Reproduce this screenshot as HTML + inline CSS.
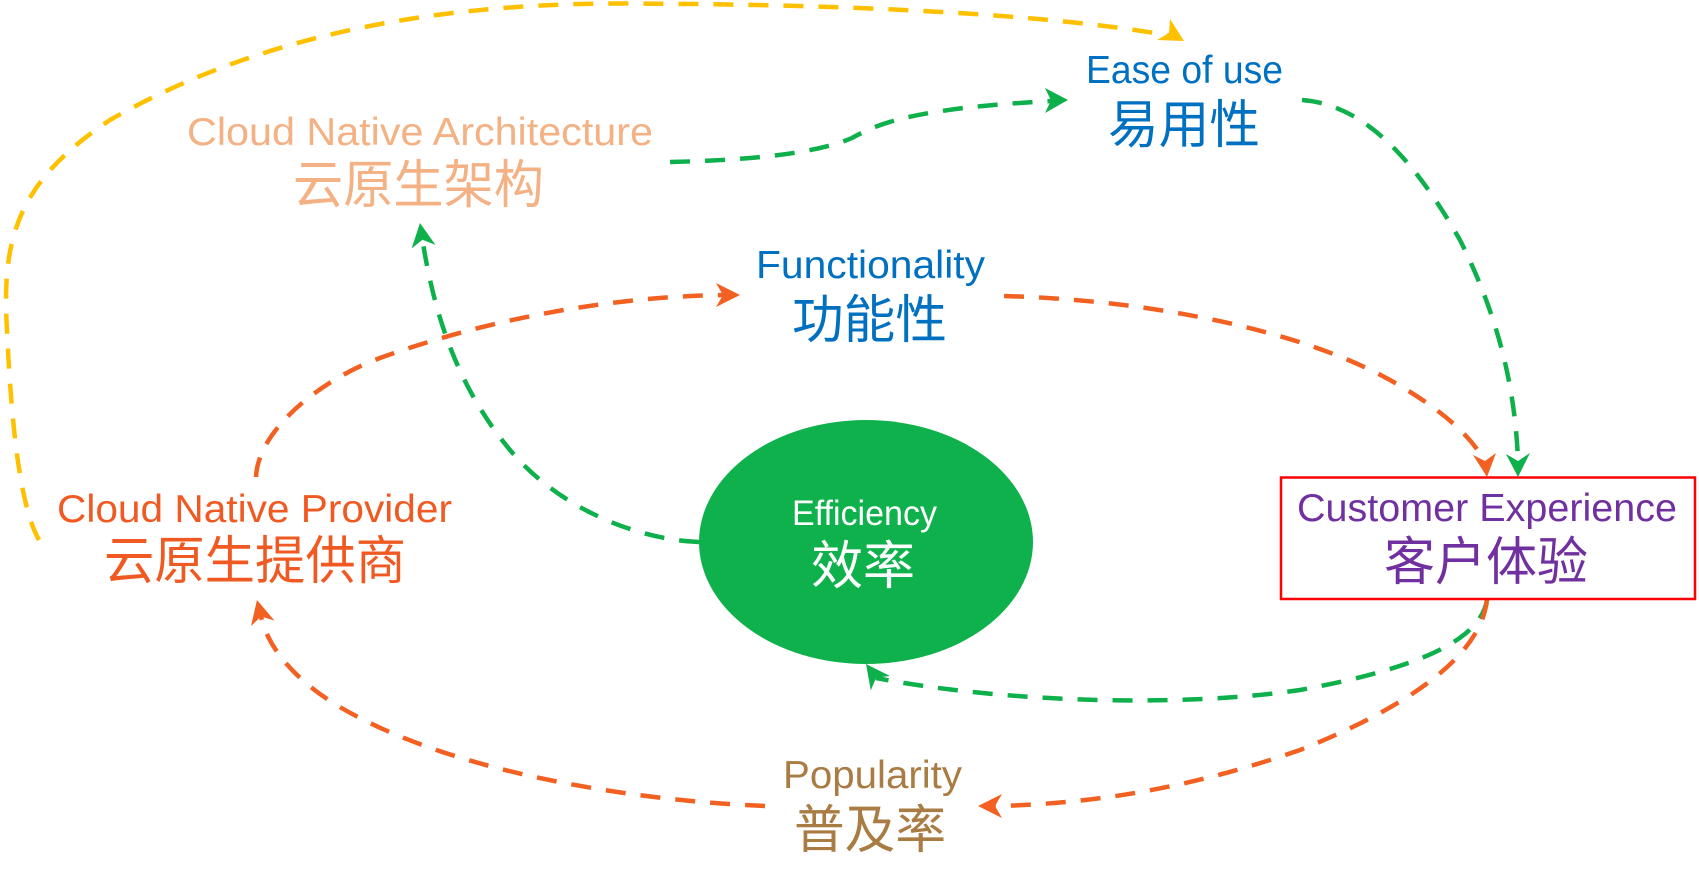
<!DOCTYPE html>
<html>
<head>
<meta charset="utf-8">
<style>
  html, body { margin: 0; padding: 0; background: #ffffff; }
  body { width: 1699px; height: 887px; overflow: hidden; }
  svg { display: block; }
  .en { font-family: "Liberation Sans", Arial, sans-serif; }
  .cn { font-family: "Liberation Sans", "Noto Sans CJK SC", "WenQuanYi Zen Hei", sans-serif; }
</style>
</head>
<body>
<svg width="1699" height="887" viewBox="0 0 1699 887" xmlns="http://www.w3.org/2000/svg">
  <rect x="0" y="0" width="1699" height="887" fill="#ffffff"/>

  <!-- dashed connectors -->
  <g fill="none" stroke-width="4.5" stroke-dasharray="20 15" stroke-linecap="butt">
    <!-- yellow: provider -> ease of use -->
    <path stroke="#FFC000" d="M39,540 C22,510 12,440 7,330 C1,235 20,180 110,120 C250,40 420,3.5 620,3.5 C850,4 1050,14 1172,36"/>
    <!-- green: architecture -> ease of use -->
    <path stroke="#0DB04B" d="M670,162 C760,160 820,152 852,138 C880,122 920,108 1051,101"/>
    <!-- green: ease of use -> customer experience -->
    <path stroke="#0DB04B" d="M1302,100 C1370,105 1420,170 1460,240 C1500,320 1515,390 1518,460"/>
    <!-- green: efficiency -> architecture -->
    <path stroke="#0DB04B" d="M699,542 C640,540 560,510 510,450 C460,390 435,320 422.5,240"/>
    <!-- green: customer experience -> efficiency -->
    <path stroke="#0DB04B" d="M1487,600 C1480,640 1420,668 1300,690 C1180,708 1000,702 876,678"/>
    <!-- orange: functionality -> customer experience -->
    <path stroke="#F26122" d="M1004,296 C1150,300 1300,330 1390,380 C1440,408 1470,435 1484,460"/>
    <!-- orange: provider -> functionality -->
    <path stroke="#F26122" d="M256,477 C258,430 320,380 380,358 C480,322 600,297 723,295"/>
    <!-- orange: popularity -> provider -->
    <path stroke="#F26122" d="M765,806 C620,800 460,770 360,718 C300,688 268,650 261,616"/>
    <!-- orange: customer experience -> popularity -->
    <path stroke="#F26122" d="M1487,600 C1480,660 1400,710 1300,750 C1200,785 1100,804 995,806"/>
  </g>

  <!-- efficiency ellipse -->
  <ellipse cx="866" cy="542" rx="167" ry="122" fill="#0EB14B"/>

  <!-- customer experience box -->
  <rect x="1281" y="477.5" width="414" height="121.5" fill="#ffffff" stroke="#FF0000" stroke-width="2.5"/>

  <!-- arrowheads -->
  <polygon fill="#FFC000" points="1184,41 1170,19 1169,33 1157,40"/>
  <polygon fill="#0DB04B" points="1068,100 1045,88 1051,100.5 1045,113"/>
  <polygon fill="#0DB04B" points="1518,477 1506,454 1518,461 1530,453"/>
  <polygon fill="#0DB04B" points="420,223 435.4,244.9 422.5,239.8 411.6,248.5"/>
  <polygon fill="#0DB04B" points="866,664 890,676 876.2,677.6 870.8,690.4"/>
  <polygon fill="#F26122" points="1487,477 1473,455 1485,461 1496,453"/>
  <polygon fill="#F26122" points="740,295 716,283 723,295 716,307"/>
  <polygon fill="#F26122" points="257,600 274.4,620.5 261,616.5 251,626.1"/>
  <polygon fill="#F26122" points="978,806 1002,794 995,806 1002,818"/>

  <!-- labels -->
  <text class="en" x="187" y="145" font-size="39" fill="#F4B183" textLength="466" lengthAdjust="spacingAndGlyphs">Cloud Native Architecture</text>
  <text class="cn" x="293" y="203" font-size="52" fill="#F4B183" textLength="251" lengthAdjust="spacingAndGlyphs">云原生架构</text>

  <text class="en" x="1086" y="83" font-size="39" fill="#0070C0" textLength="197" lengthAdjust="spacingAndGlyphs">Ease of use</text>
  <text class="cn" x="1108" y="143" font-size="52" fill="#0070C0" textLength="152" lengthAdjust="spacingAndGlyphs">易用性</text>

  <text class="en" x="756" y="278" font-size="39" fill="#0070C0" textLength="229" lengthAdjust="spacingAndGlyphs">Functionality</text>
  <text class="cn" x="792" y="338" font-size="52" fill="#0070C0" textLength="155" lengthAdjust="spacingAndGlyphs">功能性</text>

  <text class="en" x="57" y="522" font-size="39" fill="#F05A22" textLength="395" lengthAdjust="spacingAndGlyphs">Cloud Native Provider</text>
  <text class="cn" x="104" y="579" font-size="52" fill="#F05A22" textLength="302" lengthAdjust="spacingAndGlyphs">云原生提供商</text>

  <text class="en" x="792" y="525" font-size="35" fill="#ffffff" textLength="145" lengthAdjust="spacingAndGlyphs">Efficiency</text>
  <text class="cn" x="811" y="584" font-size="52" fill="#ffffff" textLength="104" lengthAdjust="spacingAndGlyphs">效率</text>

  <text class="en" x="1297" y="521" font-size="39" fill="#7030A0" textLength="380" lengthAdjust="spacingAndGlyphs">Customer Experience</text>
  <text class="cn" x="1384" y="580" font-size="52" fill="#7030A0" textLength="204" lengthAdjust="spacingAndGlyphs">客户体验</text>

  <text class="en" x="783" y="788" font-size="39" fill="#A97C43" textLength="179" lengthAdjust="spacingAndGlyphs">Popularity</text>
  <text class="cn" x="794" y="848" font-size="52" fill="#A97C43" textLength="152" lengthAdjust="spacingAndGlyphs">普及率</text>
</svg>
</body>
</html>
